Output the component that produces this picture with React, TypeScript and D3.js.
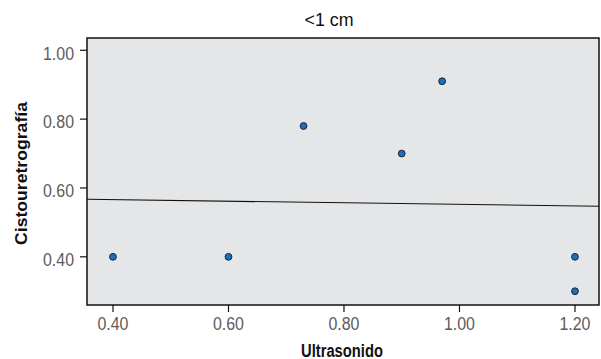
import React from "react";
import * as d3 from "d3";

const xValues = [0.4, 0.6, 0.73, 0.9, 0.97, 1.2, 1.2];
const yValues = [0.4, 0.4, 0.78, 0.7, 0.91, 0.4, 0.3];
const xTicks = [0.4, 0.6, 0.8, 1.0, 1.2];
const yTicks = [0.4, 0.6, 0.8, 1.0];
const title = "<1 cm";
const xLabel = "Ultrasonido";
const yLabel = "Cistouretrografía";

const W = 601, H = 359;
const M = { left: 87, right: 2, top: 38, bottom: 54 };
const FONT = "'Liberation Sans', Arial, sans-serif";

export default function App() {
  const x = d3.scaleLinear().domain([0.355, 1.2416]).range([M.left, W - M.right]);
  const y = d3.scaleLinear().domain([0.26, 1.0357]).range([H - M.bottom, M.top]);

  const mx = d3.mean(xValues)!;
  const my = d3.mean(yValues)!;
  let sxy = 0, sxx = 0;
  xValues.forEach((v, i) => { sxy += (v - mx) * (yValues[i] - my); sxx += (v - mx) ** 2; });
  const slope = sxy / sxx;
  const icpt = my - slope * mx;
  const [x0, x1] = x.domain();
  const line = d3.line<number>().x((d) => x(d)).y((d) => y(icpt + slope * d));

  const pw = W - M.left - M.right;
  const ph = H - M.top - M.bottom;
  const fmt = d3.format(".2f");

  return (
    <svg width={W} height={H} style={{ position: "absolute", left: 0, top: 0 }}>
      <rect x={0} y={0} width={W} height={H} fill="#fff" />
      <rect x={M.left} y={M.top} width={pw} height={ph} fill="#e5e6e8" />
      <path d={line([x0, x1])!} stroke="#111" strokeWidth={1.1} fill="none" />
      {xValues.map((v, i) => (
        <circle key={i} cx={x(v)} cy={y(yValues[i])} r={3.4} fill="#1b6ec2" stroke="#1a2533" strokeWidth={1} />
      ))}
      <rect x={M.left} y={M.top} width={pw} height={ph} fill="none" stroke="#111" strokeWidth={1.5} />
      {yTicks.map((t) => (
        <g key={t}>
          <line x1={M.left - 7} x2={M.left} y1={y(t)} y2={y(t)} stroke="#111" strokeWidth={1.2} />
          <text x={74} y={y(t) + 9.3} textAnchor="end" fontFamily={FONT} fontSize={18} fill="#5c5c5c"
            textLength={31} lengthAdjust="spacingAndGlyphs">
            {fmt(t)}
          </text>
        </g>
      ))}
      {xTicks.map((t) => (
        <g key={t}>
          <line x1={x(t)} x2={x(t)} y1={H - M.bottom} y2={H - M.bottom + 7} stroke="#111" strokeWidth={1.2} />
          <text x={x(t)} y={330} textAnchor="middle" fontFamily={FONT} fontSize={18} fill="#5c5c5c"
            textLength={31} lengthAdjust="spacingAndGlyphs">
            {fmt(t)}
          </text>
        </g>
      ))}
      <text x={329} y={26} textAnchor="middle" fontFamily={FONT} fontSize={18} fill="#111"
        textLength={49} lengthAdjust="spacingAndGlyphs">{title}</text>
      <text x={342} y={356.5} textAnchor="middle" fontFamily={FONT} fontSize={17.5} fontWeight="bold" fill="#111"
        textLength={82} lengthAdjust="spacingAndGlyphs">{xLabel}</text>
      <text transform={`translate(26.5,173.5) rotate(-90)`} textAnchor="middle" fontFamily={FONT} fontSize={17} fontWeight="bold" fill="#111"
        textLength={143} lengthAdjust="spacingAndGlyphs">{yLabel}</text>
    </svg>
  );
}
